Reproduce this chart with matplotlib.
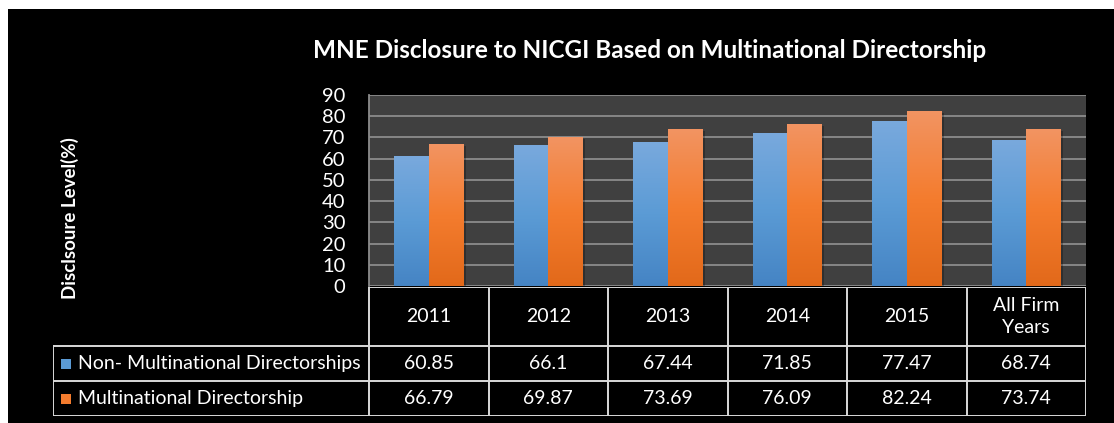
import matplotlib.pyplot as plt
import numpy as np
from matplotlib.colors import LinearSegmentedColormap
from matplotlib.patches import Rectangle

# data
categories = ['2011', '2012', '2013', '2014', '2015', 'All Firm\nYears']
series_names = ['Non- Multinational Directorships', 'Multinational Directorship']
non_multi = [60.85, 66.1, 67.44, 71.85, 77.47, 68.74]
multi = [66.79, 69.87, 73.69, 76.09, 82.24, 73.74]
value_labels = [['60.85', '66.1', '67.44', '71.85', '77.47', '68.74'],
                ['66.79', '69.87', '73.69', '76.09', '82.24', '73.74']]

plt.rcParams['font.family'] = ['Lato', 'DejaVu Sans']
W, H = 1114, 423
fig = plt.figure(figsize=(W / 100, H / 100), dpi=100, facecolor='white')

# black chart area (white margin top/left)
fig.patches.append(Rectangle((8 / W, 0), 1 - 8 / W, (H - 9) / H, transform=fig.transFigure,
                             facecolor='black', edgecolor='none', zorder=-10))

def fx(px):
    return px / W

def fy(py):
    return 1 - py / H

left_px, right_px, top_px, bot_px = 369, 1086, 95, 286
ax = fig.add_axes([fx(left_px), fy(bot_px), fx(right_px - left_px), (bot_px - top_px) / H])
ax.set_facecolor('#404040')

blue_cm = LinearSegmentedColormap.from_list('b', ['#79a9dd', '#5b9bd5', '#4584c4'])
orange_cm = LinearSegmentedColormap.from_list('o', ['#f29462', '#f47c2e', '#e2691a'])

x = np.arange(len(categories))
bw = 0.29
grad = np.linspace(0, 1, 256).reshape(-1, 1)
for vals, off, cm, name in [(non_multi, -bw / 2, blue_cm, series_names[0]),
                             (multi, bw / 2, orange_cm, series_names[1])]:
    bars = ax.bar(x + off, vals, bw, color='none', edgecolor='none', zorder=3, label=name)
    for b in bars:
        x0, w, h = b.get_x(), b.get_width(), b.get_height()
        # soft shadow
        ax.add_patch(Rectangle((x0 + 0.02, 0), w, h - 0.6, facecolor='black', alpha=0.25,
                               edgecolor='none', zorder=2))
        ax.imshow(grad, cmap=cm, extent=[x0, x0 + w, 0, h], aspect='auto', zorder=3,
                  interpolation='bicubic')

ax.set_xlim(-0.5, len(categories) - 0.5)
ax.set_ylim(0, 90)
ax.set_yticks(range(0, 91, 10))
ax.set_xticks([])
ax.yaxis.grid(True, color='#8c8c8c', lw=1.3)
ax.set_axisbelow(True)
ax.tick_params(axis='y', length=0, pad=17, labelsize=14.5, labelcolor='white')
for s in ['top', 'right', 'bottom']:
    ax.spines[s].set_visible(False)
ax.spines['left'].set_color('#8c8c8c')
ax.spines['left'].set_linewidth(1.3)

fig.text(fx(650), fy(50), 'MNE Disclosure to NICGI Based on Multinational Directorship',
         ha='center', va='center', color='white', fontsize=17.5, fontweight='bold')
fig.text(fx(70), fy(218), 'Disclsoure Level(%)', rotation=90, ha='center', va='center',
         color='white', fontsize=13.5, fontweight='bold')

# data table below the plot
tleft_px, ttop_px, tbot_px = 53, 287, 416
tax = fig.add_axes([fx(tleft_px), fy(tbot_px), fx(right_px - tleft_px), (tbot_px - ttop_px) / H])
tax.axis('off')
cw = (right_px - left_px) / len(categories)
leg_w = (left_px - tleft_px) / cw
tax.set_xlim(-0.5 - leg_w, len(categories) - 0.5)
tax.set_ylim(0, tbot_px - ttop_px)
row_h = 35
lc = '#d9d9d9'
lw = 1.4
top = tbot_px - ttop_px
# horizontal lines
tax.plot([-0.5, len(categories) - 0.5], [top, top], color=lc, lw=lw)
for yy in [2 * row_h, row_h, 0]:
    tax.plot([-0.5 - leg_w, len(categories) - 0.5], [yy, yy], color=lc, lw=lw)
# vertical lines
tax.plot([-0.5 - leg_w] * 2, [0, 2 * row_h], color=lc, lw=lw)
for i in range(len(categories) + 1):
    tax.plot([i - 0.5] * 2, [0, top], color=lc, lw=lw)

hdr_y = (2 * row_h + top) / 2
for i, c in enumerate(categories):
    tax.text(i, hdr_y, c, ha='center', va='center', color='white', fontsize=14,
             linespacing=1.3)
sq_colors = ['#5b9bd5', '#f47c2e']
for r, (name, labels) in enumerate(zip(series_names, value_labels)):
    yc = (1.5 - r) * row_h
    sq = 10 / cw
    tax.add_patch(Rectangle((-0.5 - leg_w + 8 / cw, yc - 5), sq, 10, facecolor=sq_colors[r],
                            edgecolor='none'))
    tax.text(-0.5 - leg_w + 25 / cw, yc, name, ha='left', va='center', color='white', fontsize=14)
    for i, t in enumerate(labels):
        tax.text(i, yc, t, ha='center', va='center', color='white', fontsize=14)

fig.savefig('out.png', dpi=100, facecolor=fig.get_facecolor())
